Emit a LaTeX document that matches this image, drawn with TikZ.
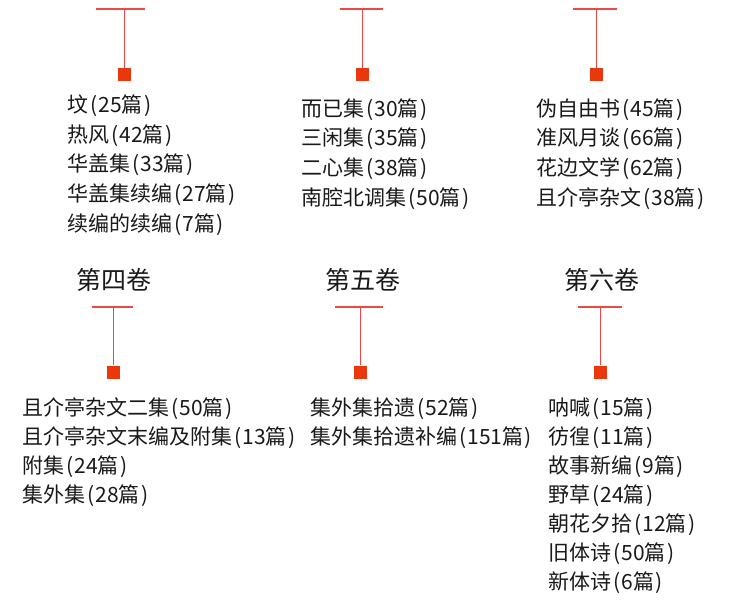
\documentclass[tikz,border=0pt]{standalone}
\usepackage{fontspec}
\setmainfont{Noto Sans CJK SC}
\definecolor{tline}{RGB}{236,72,72}
\definecolor{tsq}{RGB}{232,56,12}
\definecolor{txt}{RGB}{25,25,25}
\newcommand{\myLP}{\kern0.12em(\kern0.03em}
\newcommand{\myRP}{\kern0.06em)}
\begin{document}
\begin{tikzpicture}[x=0.75pt,y=-0.75pt,
  bar/.style={draw=tline,line width=0.8pt},
  sq/.style={fill=tsq,draw=none,minimum size=9.75pt,inner sep=0pt},
  item/.style={anchor=base west,inner sep=0pt,font=\fontsize{15.75}{18}\selectfont,text=txt},
  vol/.style={anchor=base,inner sep=0pt,font=\fontsize{18.75}{22}\selectfont,text=txt}]
\useasboundingbox (0,0) rectangle (750,600);
% ---------- top T connectors ----------
\coordinate (a1l) at (96,9);  \coordinate (a1r) at (145,9);  \coordinate (a1) at (124.5,9);
\coordinate (a2l) at (340,9); \coordinate (a2r) at (383,9);  \coordinate (a2) at (362.5,9);
\coordinate (a3l) at (573,9); \coordinate (a3r) at (617,9);  \coordinate (a3) at (596.5,9);
\node[sq] (s1) at (124.5,74.5) {};
\node[sq] (s2) at (362.5,74.5) {};
\node[sq] (s3) at (596.5,74.5) {};
\draw[bar] (a1l) -- (a1r); \draw[bar] (a1) -- (s1.north);
\draw[bar] (a2l) -- (a2r); \draw[bar] (a2) -- (s2.north);
\draw[bar] (a3l) -- (a3r); \draw[bar] (a3) -- (s3.north);
% ---------- top lists ----------
\node[item] (p11) at (67,112) {坟\myLP 25篇\myRP};
\node[item] (p12) at (67,142) {热风\myLP 42篇\myRP};
\node[item] (p13) at (67,171) {华盖集\myLP 33篇\myRP};
\node[item] (p14) at (67,201) {华盖集续编\myLP 27篇\myRP};
\node[item] (p15) at (67,231) {续编的续编\myLP 7篇\myRP};
\node[item] (p21) at (301,116) {而已集\myLP 30篇\myRP};
\node[item] (p22) at (301,145) {三闲集\myLP 35篇\myRP};
\node[item] (p23) at (301,175) {二心集\myLP 38篇\myRP};
\node[item] (p24) at (301,205) {南腔北调集\myLP 50篇\myRP};
\node[item] (p31) at (536,116) {伪自由书\myLP 45篇\myRP};
\node[item] (p32) at (536,145) {准风月谈\myLP 66篇\myRP};
\node[item] (p33) at (536,175) {花边文学\myLP 62篇\myRP};
\node[item] (p34) at (536,205) {且介亭杂文\myLP 38篇\myRP};
% ---------- volume titles ----------
\node[vol] (v4) at (113.5,289.5) {第四卷};
\node[vol] (v5) at (363,289.5) {第五卷};
\node[vol] (v6) at (601.5,289.5) {第六卷};
% ---------- bottom T connectors ----------
\coordinate (b4l) at (92,307);  \coordinate (b4r) at (133,307); \coordinate (b4) at (113.5,307);
\coordinate (b5l) at (335,307); \coordinate (b5r) at (383,307); \coordinate (b5) at (360.5,307);
\coordinate (b6l) at (578,307); \coordinate (b6r) at (622,307); \coordinate (b6) at (600.5,307);
\node[sq] (s4) at (113.5,372) {};
\node[sq] (s5) at (360.5,372) {};
\node[sq] (s6) at (600.5,372) {};
\draw[bar] (b4l) -- (b4r); \draw[bar] (b4) -- (s4.north);
\draw[bar] (b5l) -- (b5r); \draw[bar] (b5) -- (s5.north);
\draw[bar] (b6l) -- (b6r); \draw[bar] (b6) -- (s6.north);
% ---------- bottom lists ----------
\node[item] (q41) at (22,415) {且介亭杂文二集\myLP 50篇\myRP};
\node[item] (q42) at (22,444) {且介亭杂文末编及附集\myLP 13篇\myRP};
\node[item] (q43) at (22,473) {附集\myLP 24篇\myRP};
\node[item] (q44) at (22,502) {集外集\myLP 28篇\myRP};
\node[item] (q51) at (310,415) {集外集拾遗\myLP 52篇\myRP};
\node[item] (q52) at (310,444) {集外集拾遗补编\myLP 151篇\myRP};
\node[item] (q61) at (548,415) {呐喊\myLP 15篇\myRP};
\node[item] (q62) at (548,444) {彷徨\myLP 11篇\myRP};
\node[item] (q63) at (548,473) {故事新编\myLP 9篇\myRP};
\node[item] (q64) at (548,502) {野草\myLP 24篇\myRP};
\node[item] (q65) at (548,531) {朝花夕拾\myLP 12篇\myRP};
\node[item] (q66) at (548,560) {旧体诗\myLP 50篇\myRP};
\node[item] (q67) at (548,589) {新体诗\myLP 6篇\myRP};
\end{tikzpicture}
\end{document}
